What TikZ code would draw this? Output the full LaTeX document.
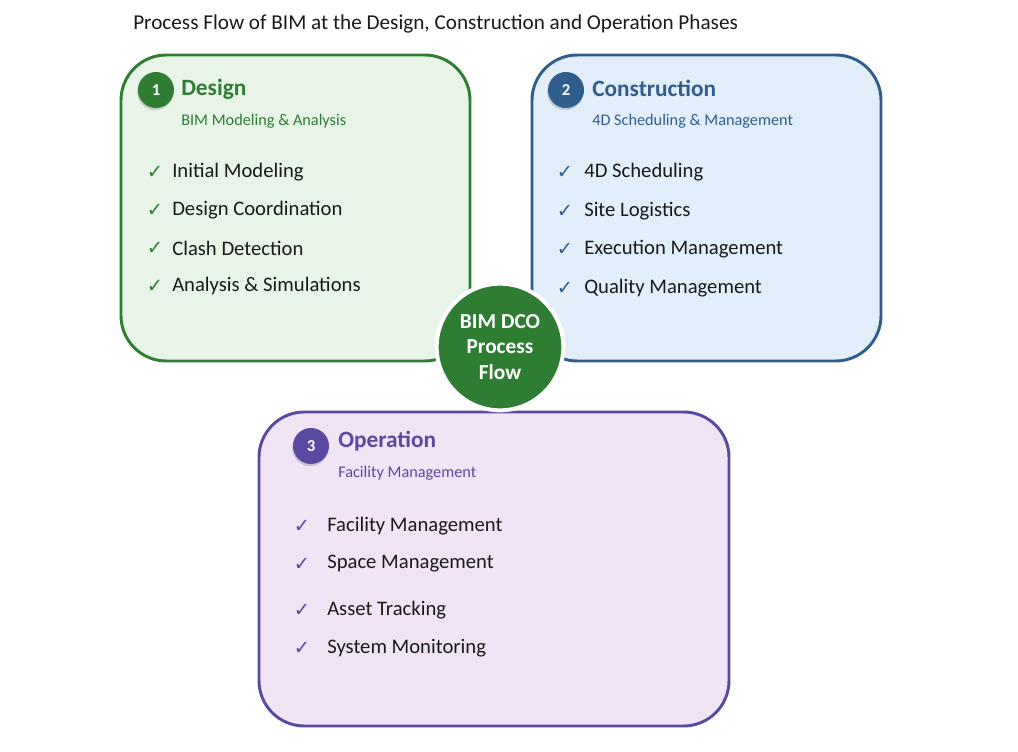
\documentclass[tikz,border=0pt]{standalone}
\usepackage{fontspec}
\setmainfont{Carlito}
\newfontfamily\tickfont{DejaVu Sans}
\usepackage{tikz}
\usetikzlibrary{shadows}
\definecolor{dsgn}{HTML}{2E7D32}
\definecolor{dsgnbg}{HTML}{E7F4E7}
\definecolor{cnst}{HTML}{2F5D8C}
\definecolor{cnstbg}{HTML}{E2EFFB}
\definecolor{oper}{HTML}{5A49A0}
\definecolor{operbg}{HTML}{F1E4F5}
\definecolor{ink}{HTML}{1A1A1A}
\tikzset{
  phase/.style={rounded corners=34pt,line width=2.2pt,inner sep=0pt},
  hub/.style={circle,fill=dsgn,draw=white,line width=3pt,inner sep=0pt,
              minimum size=95pt,align=center,text=white,
              font=\bfseries\fontsize{16}{18}\selectfont},
  badge/.style={circle,inner sep=0pt,minimum size=27pt,text=white,
              font=\bfseries\fontsize{12.5}{14}\selectfont,
              drop shadow={shadow xshift=-0.6pt,shadow yshift=-1.6pt,opacity=0.35}},
  head/.style={anchor=west,inner sep=0pt,font=\bfseries\fontsize{17.5}{20}\selectfont},
  subhead/.style={anchor=west,inner sep=0pt,font=\fontsize{12.2}{14}\selectfont},
  item/.style={anchor=west,inner sep=0pt,text=ink,font=\fontsize{15.5}{18}\selectfont},
  tick/.style={inner sep=0pt,font=\tickfont\fontsize{14.5}{16}\selectfont},
}

\begin{document}
\begin{tikzpicture}[x=0.75pt,y=-0.75pt]
  \useasboundingbox[fill=white] (0,0) rectangle (1018,752);

  % ---- title ----
  \node[anchor=west,inner sep=0pt,text=ink,font=\fontsize{15.9}{18}\selectfont]
    (title) at (133,24) {Process Flow of BIM at the Design, Construction and Operation Phases};

  % ---- phase boxes ----
  \node[phase,draw=dsgn,fill=dsgnbg,minimum width=261.75pt,minimum height=229.5pt]
    (design) at (295.5,208) {};
  \node[phase,draw=cnst,fill=cnstbg,minimum width=261.75pt,minimum height=229.5pt]
    (constr) at (706.5,208) {};
  \node[phase,draw=oper,fill=operbg,minimum width=352.5pt,minimum height=235.5pt]
    (operat) at (494,569) {};

  % ---- hub ----
  \node[hub] (hub) at (500,347) {BIM DCO\\[1pt]Process\\[1pt]Flow};

  % ---- design ----
  \node[badge,fill=dsgn] (b1) at (156,90) {1};
  \node[head,text=dsgn] (h1) at (181,89) {Design};
  \node[subhead,text=dsgn] (s1) at (181,121) {BIM Modeling \& Analysis};
  \foreach \yy/\txt [count=\i] in {172/Initial Modeling,210/Design Coordination,
                                   248/Clash Detection,286/Analysis \& Simulations}{
    \node[tick,text=dsgn] (dt\i) at (155,\yy) {✓};
    \node[item] (d\i) at (172,\yy) {\txt};}

  % ---- construction ----
  \node[badge,fill=cnst] (b2) at (566,90) {2};
  \node[head,text=cnst] (h2) at (592,88) {Construction};
  \node[subhead,text=cnst] (s2) at (592,121) {4D Scheduling \& Management};
  \foreach \yy/\txt [count=\i] in {172/4D Scheduling,211/Site Logistics,
                                   249/Execution Management,288/Quality Management}{
    \node[tick,text=cnst] (ct\i) at (565,\yy) {✓};
    \node[item] (c\i) at (584,\yy) {\txt};}

  % ---- operation ----
  \node[badge,fill=oper] (b3) at (311,446) {3};
  \node[head,text=oper] (h3) at (338,441) {Operation};
  \node[subhead,text=oper] (s3) at (338,473) {Facility Management};
  \foreach \yy/\txt [count=\i] in {526/Facility Management,564/Space Management,
                                   610/Asset Tracking,648/System Monitoring}{
    \node[tick,text=oper] (ot\i) at (302,\yy) {✓};
    \node[item] (o\i) at (327,\yy) {\txt};}
\end{tikzpicture}
\end{document}
